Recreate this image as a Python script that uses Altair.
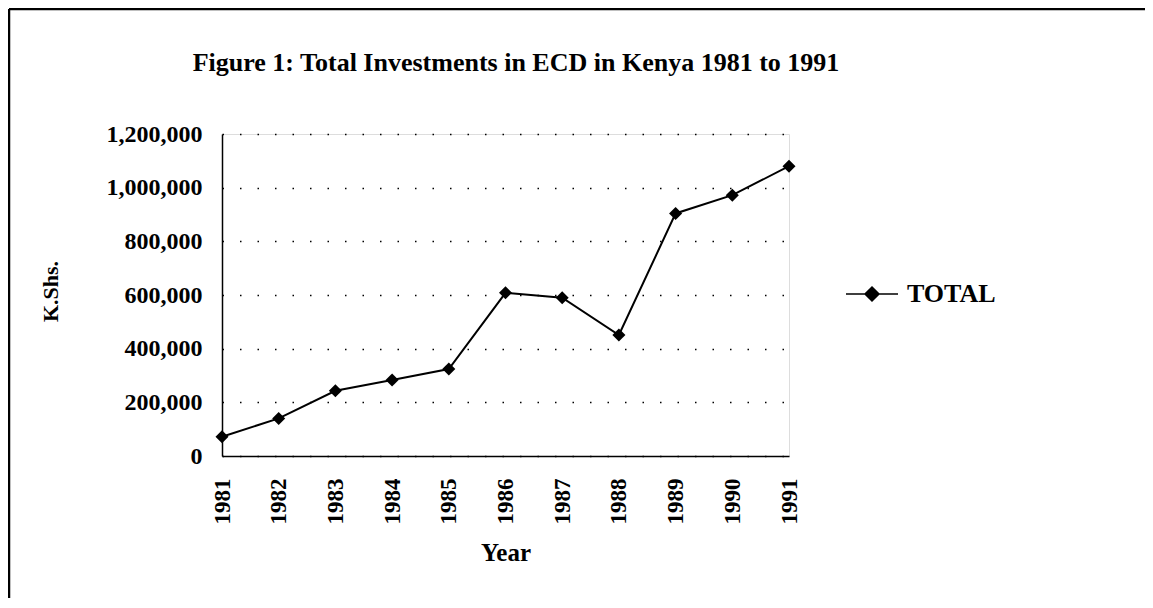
import altair as alt
import pandas as pd

# ---- data ----
years = ["1981", "1982", "1983", "1984", "1985", "1986", "1987", "1988", "1989", "1990", "1991"]
totals = [72000, 140000, 243000, 283000, 324000, 608000, 590000, 451000, 904000, 972000, 1080000]
series_name = ["TOTAL"] * len(years)
y_ticks = [0, 200000, 400000, 600000, 800000, 1000000, 1200000]
title_text = "Figure 1: Total Investments in ECD in Kenya 1981 to 1991"

df = pd.DataFrame({"Year": years, "Total": totals, "Series": series_name})

FONT = "Liberation Serif"
W, H = 567, 322
PAD_L, PAD_T = 214, 126
TOTAL_W, TOTAL_H = 1137, 590

x_enc = alt.X(
    "Year:O",
    scale=alt.Scale(type="point", padding=0),
    axis=alt.Axis(
        title="Year", labelAngle=-90, labelPadding=22, ticks=False,
        labelFont=FONT, labelFontSize=23, labelFontWeight="bold", labelColor="black",
        titleFont=FONT, titleFontSize=25, titleFontWeight="bold", titleColor="black",
        titleY=96, titleBaseline="middle", domainColor="black", domainWidth=1.5,
        grid=False,
    ),
)
y_enc = alt.Y(
    "Total:Q",
    scale=alt.Scale(domain=[0, 1200000], nice=False),
    axis=alt.Axis(
        values=y_ticks, format=",d", title="K.Shs.", ticks=False, labelPadding=20,
        labelFont=FONT, labelFontSize=24, labelFontWeight="bold", labelColor="black",
        titleFont=FONT, titleFontSize=22, titleFontWeight="bold", titleColor="black",
        titleAngle=270, titleX=-172, titleY=H / 2 - 4, titleAlign="center", titleBaseline="middle",
        grid=True, gridColor="black", gridDash=[1.5, 16], gridWidth=1.5,
        domainColor="black", domainWidth=1.5,
    ),
)

line = alt.Chart(df).mark_line(strokeWidth=2).encode(
    x=x_enc,
    y=y_enc,
    color=alt.Color(
        "Series:N",
        scale=alt.Scale(range=["black"]),
        legend=alt.Legend(
            title=None, orient="none", legendX=623, legendY=133, padding=0,
            symbolType="M-1,0H1M0,-0.27L0.27,0L0,0.27L-0.27,0Z",
            symbolSize=2704, symbolStrokeWidth=1.5,
            symbolFillColor="black", symbolStrokeColor="black",
            labelFont=FONT, labelFontSize=26, labelFontWeight="bold", labelColor="black",
            labelOffset=8,
        ),
    ),
)
points = alt.Chart(df).mark_point(shape="diamond", filled=True, size=170, opacity=1).encode(
    x=alt.X("Year:O"), y=alt.Y("Total:Q"), color=alt.value("black")
)

frame_data = alt.Data(values=[{"k": 1}])
frame_left = alt.Chart(frame_data).mark_rule(color="black", strokeWidth=2.5).encode(
    x=alt.value(-PAD_L + 1), y=alt.value(-PAD_T + 1), y2=alt.value(TOTAL_H - PAD_T)
)
frame_top = alt.Chart(frame_data).mark_rule(color="black", strokeWidth=2.5).encode(
    x=alt.value(-PAD_L + 1), x2=alt.value(TOTAL_W - PAD_L), y=alt.value(-PAD_T + 1)
)
title_mark = alt.Chart(alt.Data(values=[{"t": title_text}])).mark_text(
    font=FONT, fontSize=26, fontWeight="bold", color="black", align="center", baseline="middle"
).encode(text="t:N", x=alt.value(294), y=alt.value(-71))

chart = alt.layer(frame_left, frame_top, title_mark, line, points).properties(
    width=W, height=H,
    autosize=alt.AutoSizeParams(type="none"),
    padding={"left": PAD_L, "top": PAD_T, "right": TOTAL_W - PAD_L - W, "bottom": TOTAL_H - PAD_T - H},
).configure_view(stroke="black", strokeWidth=1.5).configure(background="white")

chart.save("out.html", embed_options={"renderer": "svg", "actions": False})
